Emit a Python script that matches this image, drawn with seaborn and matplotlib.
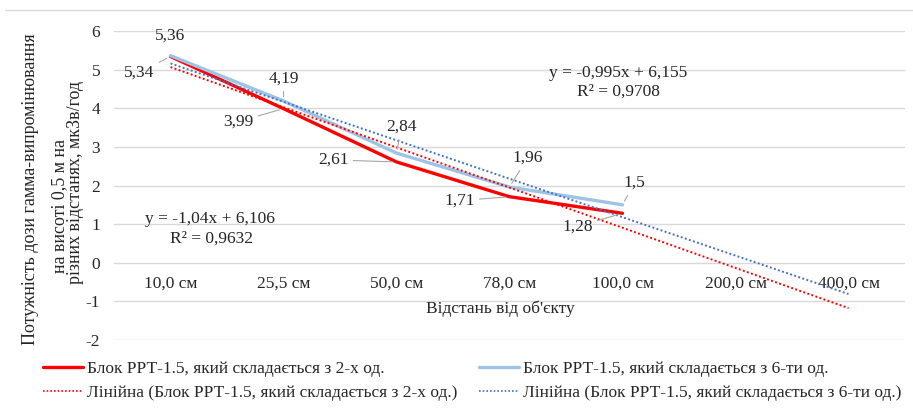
import numpy as np
import pandas as pd
import matplotlib
matplotlib.use("Agg")
import matplotlib.pyplot as plt
from matplotlib.lines import Line2D
import seaborn as sns

# ---------------- data ----------------
categories = ["10,0 см", "25,5 см", "50,0 см", "78,0 см", "100,0 см", "200,0 см", "400,0 см"]
red_values = [5.34, 3.99, 2.61, 1.71, 1.28]
blue_values = [5.36, 4.19, 2.84, 1.96, 1.5]
red_name = "Блок РРТ-1.5, який складається з 2-х од."
blue_name = "Блок РРТ-1.5, який складається з 6-ти од."
red_trend_name = "Лінійна (Блок РРТ-1.5, який складається з 2-х од.)"
blue_trend_name = "Лінійна (Блок РРТ-1.5, який складається з 6-ти од.)"
red_eq = ["y = -1,04x + 6,106", "R² = 0,9632"]
blue_eq = ["y = -0,995x + 6,155", "R² = 0,9708"]
y_ticks = [-2, -1, 0, 1, 2, 3, 4, 5, 6]
x_title = "Відстань від об'єкту"
y_title_lines = ["Потужність дози гамма-випромінювання", "на висоті 0,5 м на", "різних відстанях, мкЗв/год"]

# ---------------- style ----------------
sns.set_theme(style="white")
plt.rcParams["font.family"] = ["Liberation Serif", "DejaVu Serif"]
FS = 12.5
plt.rcParams["font.size"] = FS

RED = "#FF0000"
LBLUE = "#9DC3E6"
DBLUE = "#4472C4"
GRID = "#D9D9D9"
LEADER = "#A6A6A6"
TXT = "#262626"

W, H = 913, 412
fig = plt.figure(figsize=(W / 100, H / 100), dpi=100)
fig.patch.set_facecolor("white")
ax = fig.add_axes([114 / W, 1 - 340 / H, (905 - 114) / W, (340 - 31) / H])

n = len(red_values)
df = pd.DataFrame({
    "x": list(range(n)) * 2,
    "y": red_values + blue_values,
    "series": [red_name] * n + [blue_name] * n,
})
sns.lineplot(data=df[df.series == red_name], x="x", y="y", color=RED, linewidth=2.4,
             ax=ax, legend=False, sort=False, zorder=3)
sns.lineplot(data=df[df.series == blue_name], x="x", y="y", color=LBLUE, linewidth=2.4,
             ax=ax, legend=False, sort=False, zorder=3)

# linear trend lines (Excel: x = 1..n, forecast forward to all categories)
xs_fit = np.arange(1, n + 1)
xs_all = np.arange(1, len(categories) + 1)
for vals, col in [(red_values, RED), (blue_values, DBLUE)]:
    coef = np.polyfit(xs_fit, vals, 1)
    ax.plot(xs_all - 1, np.polyval(coef, xs_all), color=col, linewidth=1.4,
            linestyle=(0, (1, 1.2)), zorder=4)

# axes styling
ax.set_xlim(-0.5, len(categories) - 0.5)
ax.set_ylim(-2, 6)
ax.set_yticks(y_ticks)
ax.set_yticklabels([str(t) for t in y_ticks])
ax.set_xticks(range(len(categories)))
ax.set_xticklabels(categories)
ax.grid(axis="y", color=GRID, linewidth=1.0)
ax.grid(axis="x", visible=False)
for s in ["top", "right", "left"]:
    ax.spines[s].set_visible(False)
ax.spines["bottom"].set_position(("data", 0))
ax.spines["bottom"].set_linewidth(0)
ax.tick_params(axis="y", length=0, pad=10, labelsize=FS, colors=TXT)
ax.tick_params(axis="x", length=0, pad=9, labelsize=FS, colors=TXT)
ax.set_xlabel("")
ax.set_ylabel("")
ax.set_facecolor("white")

# data labels (offsets in pixels; leader lines)
red_offsets = [(-31, -16), (-45, -13), (-63, 2), (-50, -4), (-45, -13)]
blue_offsets = [(0, 20), (0, 22), (5, 26), (18, 29), (12, 22)]
for vals, offs in [(red_values, red_offsets), (blue_values, blue_offsets)]:
    for i, (v, (dx, dy)) in enumerate(zip(vals, offs)):
        txt = str(v).replace(".", ",")
        leader = abs(dx) + abs(dy) > 21
        ax.annotate(txt, xy=(i, v), xytext=(dx, dy), textcoords="offset pixels",
                    ha="center", va="center", fontsize=FS, color=TXT, zorder=6,
                    arrowprops=dict(arrowstyle="-", color=LEADER, lw=0.8,
                                    shrinkA=1, shrinkB=3) if leader else None)

# trend equations
ax.text(0.35, 1.14, red_eq[0], ha="center", va="center", fontsize=FS, color=TXT)
ax.text(0.36, 0.62, red_eq[1], ha="center", va="center", fontsize=FS, color=TXT)
ax.text(3.96, 4.92, blue_eq[0], ha="center", va="center", fontsize=FS, color=TXT)
ax.text(3.96, 4.42, blue_eq[1], ha="center", va="center", fontsize=FS, color=TXT)

# axis titles
fig.text(500 / W, 1 - 309 / H, x_title, ha="center", va="center", fontsize=FS, color=TXT)
for xpx, ypx, line in zip([31, 60, 76], [189, 206, 182], y_title_lines):
    fig.text(xpx / W, 1 - ypx / H, line, rotation=90, ha="center", va="center",
             fontsize=13, color=TXT)

# top border line
fig.add_artist(Line2D([5 / W, 1], [1 - 10 / H, 1 - 10 / H], color=GRID, lw=1.0,
                      transform=fig.transFigure))

# legend
handles = [
    Line2D([], [], color=RED, lw=2.4),
    Line2D([], [], color=RED, lw=1.2, linestyle=(0, (1, 1.2))),
    Line2D([], [], color=LBLUE, lw=2.4),
    Line2D([], [], color=DBLUE, lw=1.2, linestyle=(0, (1, 1.2))),
]
labels = [red_name, red_trend_name, blue_name, blue_trend_name]
fig.legend(handles, labels, ncol=2, loc="upper left", bbox_to_anchor=(43 / W, 1 - 361 / H),
           frameon=False, fontsize=FS, handlelength=2.3, handletextpad=0.23,
           columnspacing=1.26, labelspacing=0.47, borderpad=0, borderaxespad=0,
           labelcolor=TXT)

fig.savefig("out.png", dpi=100, facecolor="white")
